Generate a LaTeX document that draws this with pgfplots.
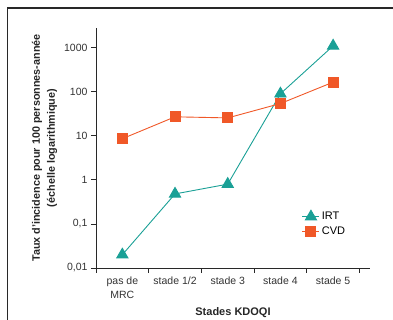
\documentclass[border=0pt]{standalone}
\usepackage{pgfplots}
\pgfplotsset{compat=1.18}
\usepackage{fontspec}
\setmainfont{Liberation Sans}
\definecolor{irt}{RGB}{26,160,150}
\definecolor{cvd}{RGB}{240,88,40}
\definecolor{frm}{RGB}{40,40,40}
\begin{document}
\begin{tikzpicture}
\useasboundingbox (0,0) rectangle (393pt,320pt);
\draw[frm, line width=1.3pt] (7.5pt,0) -- (7.5pt,312pt) -- (393pt,312pt);
\begin{axis}[
  at={(96pt,52pt)}, anchor=south west,
  scale only axis, width=274pt, height=240pt,
  ymode=log, ymin=0.01, ymax=2800,
  xmin=-0.5, xmax=4.7,
  axis lines=left, axis line style={-, draw=frm, line width=0.8pt},
  tick align=outside,
  ytick={0.01,0.1,1,10,100,1000},
  yticklabels={{0,01},{0,1},1,10,100,1000},
  yminorticks=false,
  xtick={0,1,2,3,4},
  xticklabels={{pas de\\MRC},stade 1/2,stade 3,stade 4,stade 5},
  xticklabel style={align=center, font=\fontsize{10.5}{14}\selectfont, text=black!80},
  yticklabel style={font=\fontsize{10.5}{12.5}\selectfont, text=black!80},
  major x tick style={draw=none},
  minor xtick={-0.5,0.5,1.5,2.5,3.5,4.5},
  minor tick length=5pt,
  minor x tick style={draw=frm, line width=0.8pt},
  major tick length=5pt,
  major y tick style={draw=frm, line width=0.8pt},
  xlabel={Stades KDOQI},
  xlabel style={font=\bfseries\fontsize{11}{13}\selectfont, text=black!85, yshift=-2pt},
  ylabel={Taux d'incidence pour 100 personnes-année\\(échelle logarithmique)},
  ylabel style={align=center, font=\bfseries\fontsize{10.8}{15}\selectfont, text=black!85, yshift=0pt},
  legend style={at={(0.74,0.25)}, anchor=north west, draw=none, fill=none,
    font=\fontsize{11}{13}\selectfont, row sep=2pt},
  legend cell align=left,
  clip=false,
]
\addplot[irt, line width=0.9pt, mark=triangle*, mark size=6.5pt, mark options={fill=irt, draw=irt}]
  coordinates {(0,0.02) (1,0.48) (2,0.8) (3,90) (4,1100)};
\addlegendentry{IRT}
\addplot[cvd, line width=0.9pt, mark=square*, mark size=5pt, mark options={fill=cvd, draw=cvd}]
  coordinates {(0,8.6) (1,27) (2,25.5) (3,54) (4,165)};
\addlegendentry{CVD}
\end{axis}
\end{tikzpicture}
\end{document}
